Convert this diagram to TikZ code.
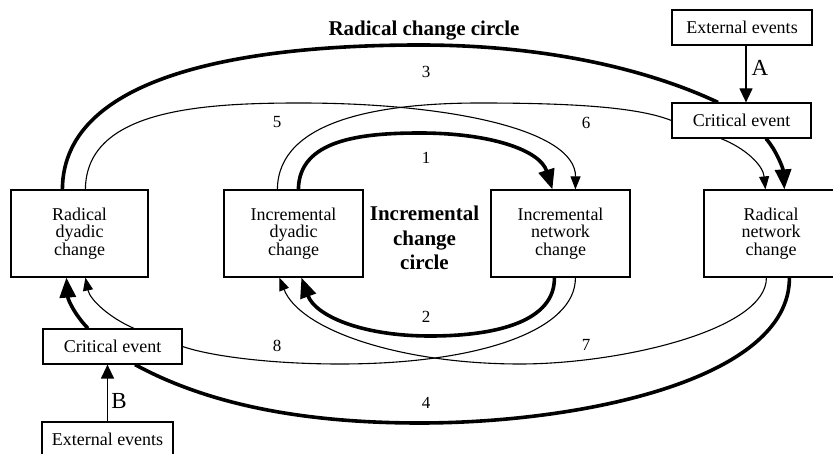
\documentclass[tikz,border=0pt]{standalone}
\usepackage{fontspec}
\setmainfont{Liberation Serif}
\usetikzlibrary{arrows.meta}
\begin{document}
\begin{tikzpicture}[x=1pt,y=-1pt,
  box/.style={draw,line width=1.2pt,inner sep=0pt,align=center,font=\fontsize{18}{17.5}\selectfont},
  bigbox/.style={box,minimum height=87pt},
  smallbox/.style={box,minimum height=35pt},
  heavy/.style={line width=3.6pt},
  light/.style={line width=1.1pt},
  bigtip/.style={-{Triangle[length=20pt,width=16pt]}},
  smalltip/.style={-{Triangle[length=13pt,width=10pt]}},
  vtip/.style={-{Triangle[length=14pt,width=13pt]}},
  num/.style={font=\fontsize{17}{17}\selectfont,inner sep=0pt},
  letter/.style={font=\fontsize{23}{23}\selectfont,inner sep=0pt},
  title/.style={font=\fontsize{21}{24.5}\selectfont\bfseries,align=center,inner sep=0pt}]
\useasboundingbox (0,0) rectangle (833,454);

% boxes
\node[bigbox,minimum width=137pt] (rd) at (79.5,233.5) {Radical\\dyadic\\change};
\node[bigbox,minimum width=139pt] (id) at (293.5,233.5) {Incremental\\dyadic\\change};
\node[bigbox,minimum width=139pt] (in) at (560.5,233.5) {Incremental\\network\\change};
\node[bigbox,minimum width=134pt] (rn) at (771,233.5) {Radical\\network\\change};
\node[smallbox,minimum width=140pt] (ext1) at (742,27.5) {External events};
\node[smallbox,minimum width=139pt] (ce1) at (741.5,120.5) {Critical event};
\node[smallbox,minimum width=139pt] (ce2) at (112.5,346.5) {Critical event};
\node[smallbox,minimum width=131pt] (ext2) at (107.5,439.5) {External events};

% titles
\node[title] (t1) at (424,31) {Radical change circle};
\node[title] (t2) at (424.5,238) {Incremental\\change\\circle};

% external event arrows
\draw[line width=1.2pt,vtip] ([xshift=4pt]ext1.south) -- ([xshift=4pt]ext1.south |- ce1.north);
\draw[line width=1.2pt,vtip] (ext2.north) -- (ext2.north |- ce2.south);
\node[letter] (la) at (760,68) {A};
\node[letter] (lb) at (119,401) {B};

% 3: radical dyadic -> critical event -> radical network
\draw[heavy] ([xshift=52pt]rd.north west) .. controls (63,70) and (260,45) .. (420,45)
   .. controls (560,45) and (660,75) .. ([xshift=-23.5pt]ce1.north);
\draw[heavy,bigtip] ([xshift=24.5pt]ce1.south) .. controls (776,150) and (783,168) .. ([xshift=81pt]rn.north west);

% 5: radical dyadic -> incremental network
\draw[light,smalltip] ([xshift=75pt]rd.north west) .. controls (86,110) and (200,103) .. (300,103)
   .. controls (450,103) and (576,130) .. ([xshift=85pt]in.north west);

% 6: incremental dyadic -> critical event -> radical network
\draw[light] ([xshift=54pt]id.north west) .. controls (278,120) and (380,103) .. (480,103)
   .. controls (580,103) and (640,108) .. (ce1.west);
\draw[light,smalltip] ([xshift=-20.5pt]ce1.south) .. controls (745,148) and (763,165) .. ([xshift=62pt]rn.north west);

% 1: incremental dyadic -> incremental network
\draw[heavy,bigtip] ([xshift=75pt]id.north west) .. controls (299,140) and (360,133) .. (420,133)
   .. controls (490,133) and (540,150) .. ([xshift=62pt]in.north west);

% 2: incremental network -> incremental dyadic
\draw[heavy,bigtip] ([xshift=64pt]in.south west) .. controls (555,320) and (500,336) .. (430,336)
   .. controls (360,336) and (315,315) .. ([xshift=78pt]id.south west);

% 7: radical network -> incremental dyadic
\draw[light,smalltip] ([xshift=63pt]rn.south west) .. controls (767,330) and (620,364) .. (520,364)
   .. controls (400,364) and (300,330) .. ([xshift=56pt]id.south west);

% 8: incremental network -> critical event -> radical dyadic
\draw[light] ([xshift=85pt]in.south west) .. controls (576,330) and (480,364) .. (340,364)
   .. controls (270,364) and (210,356) .. (ce2.east);
\draw[light,smalltip] ([xshift=21.5pt]ce2.north) .. controls (110,318) and (90,300) .. ([xshift=75pt]rd.south west);

% 4: radical network -> critical event -> radical dyadic
\draw[heavy] ([xshift=86pt]rn.south west) .. controls (790,380) and (580,423) .. (420,423)
   .. controls (290,423) and (200,400) .. ([xshift=22.5pt]ce2.south);
\draw[heavy,bigtip] ([xshift=-24.5pt]ce2.north) .. controls (75,315) and (68,300) .. ([xshift=56pt]rd.south west);

% numbers
\node[num] (n1) at (426,158) {1};
\node[num] (n2) at (426,317) {2};
\node[num] (n3) at (426,72) {3};
\node[num] (n4) at (426,403) {4};
\node[num] (n5) at (277,122) {5};
\node[num] (n6) at (586,123) {6};
\node[num] (n7) at (586,345) {7};
\node[num] (n8) at (277,346) {8};
\end{tikzpicture}
\end{document}
